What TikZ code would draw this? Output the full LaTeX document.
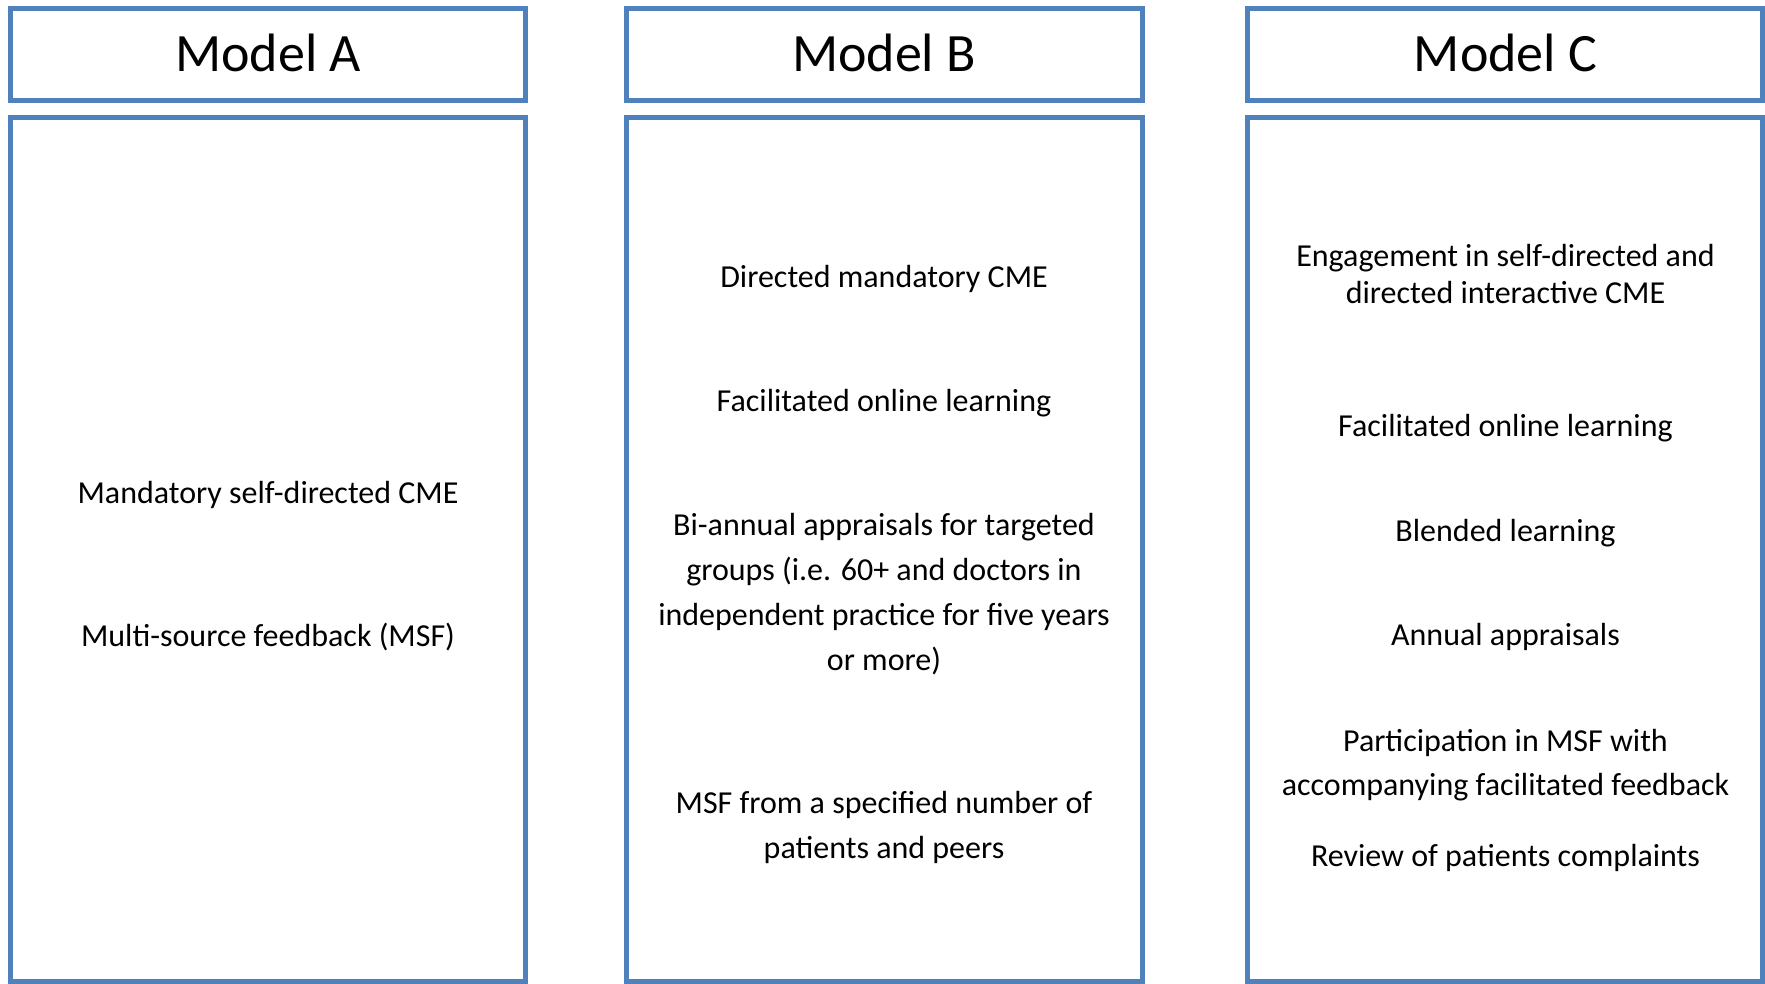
\documentclass[tikz,border=0pt]{standalone}
\usepackage{fontspec}
\setmainfont{Carlito}
\definecolor{boxblue}{HTML}{4F81BD}
\tikzset{
  frame/.style={draw=boxblue, line width=5pt, fill=white, inner sep=0pt, outer sep=0pt, anchor=north west},
  headtxt/.style={anchor=base, inner sep=0pt, font=\fontsize{54}{60}\selectfont},
  itemtxt/.style={anchor=base, inner sep=0pt, font=\fontsize{32}{40}\selectfont},
}
\begin{document}
\begin{tikzpicture}[x=1pt, y=-1pt]
\useasboundingbox[fill=white] (0,0) rectangle (1765,984);
% header boxes
\node[frame, minimum width=515.5pt, minimum height=92pt] (hA) at (10,8.5) {};
\node[frame, minimum width=515.5pt, minimum height=92pt] (hB) at (626.5,8.5) {};
\node[frame, minimum width=515pt, minimum height=92pt] (hC) at (1247.5,8.5) {};
% body boxes
\node[frame, minimum width=515.5pt, minimum height=864pt] (bA) at (10,117.5) {};
\node[frame, minimum width=515.5pt, minimum height=864pt] (bB) at (626.5,117.5) {};
\node[frame, minimum width=515pt, minimum height=864pt] (bC) at (1247.5,117.5) {};
% headers
\node[headtxt] (tA) at (268,71.7) {Model A};
\node[headtxt] (tB) at (884,71.7) {Model B};
\node[headtxt] (tC) at (1505.5,71.7) {Model C};
% Model A
\node[itemtxt] (a1) at (268,503) {Mandatory self-directed CME};
\node[itemtxt] (a2) at (268,646.7) {Multi-source feedback (MSF)};
% Model B
\node[itemtxt] (b1) at (884,287.9) {Directed mandatory CME};
\node[itemtxt] (b2) at (884,411.8) {Facilitated online learning};
\node[itemtxt] (b3a) at (884,535.7) {Bi-annual appraisals for targeted};
\node[itemtxt] (b3b) at (884,580.6) {groups (i.e. 60+ and doctors in};
\node[itemtxt] (b3c) at (884,625.5) {independent practice for five years};
\node[itemtxt] (b3d) at (884,670.4) {or more)};
\node[itemtxt] (b4a) at (884,813.6) {MSF from a specified number of};
\node[itemtxt] (b4b) at (884,858.7) {patients and peers};
% Model C
\node[itemtxt] (c1a) at (1505.5,266.7) {Engagement in self-directed and};
\node[itemtxt] (c1b) at (1505.5,304) {directed interactive CME};
\node[itemtxt] (c2) at (1505.5,436.5) {Facilitated online learning};
\node[itemtxt] (c3) at (1505.5,541.2) {Blended learning};
\node[itemtxt] (c4) at (1505.5,645.9) {Annual appraisals};
\node[itemtxt] (c5a) at (1505.5,751.7) {Participation in MSF with};
\node[itemtxt] (c5b) at (1505.5,795) {accompanying facilitated feedback};
\node[itemtxt] (c6) at (1505.5,866.7) {Review of patients complaints};
\end{tikzpicture}
\end{document}
